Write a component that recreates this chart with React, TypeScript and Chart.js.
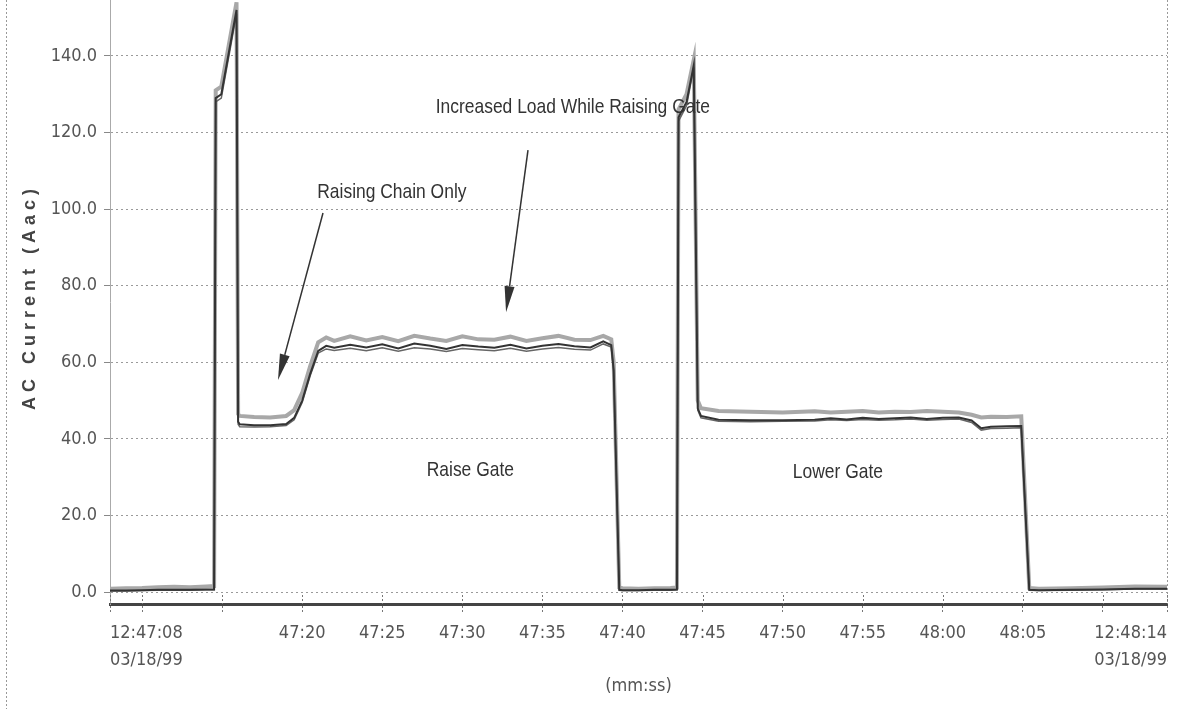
import React, { useEffect, useRef } from "react";
import { Chart, registerables } from "chart.js";

Chart.register(...registerables);

// time in seconds after 12:47:00 (03/18/99)
const times = [
  8, 9, 10, 11, 12, 13, 14, 14.5,
  14.6, 14.95, 15.9, 16.0, 16.1, 17, 18, 19,
  19.5, 20, 20.5, 21, 21.5, 22, 23, 24,
  25, 26, 27, 28, 29, 30, 31, 32,
  33, 34, 35, 36, 37, 38, 38.8, 39.3,
  39.45, 39.8, 40, 41, 42, 43, 43.4, 43.5,
  44.0, 44.45, 44.7, 44.9, 46, 48, 50, 52,
  53, 54, 55, 56, 57, 58, 59, 60,
  61, 61.8, 62.4, 63, 64, 64.9, 65.4, 66,
  68, 70, 72, 74,
];

// AC current (Aac), three traces
const phaseA = [
  0.9, 1.0, 1.1, 1.3, 1.4, 1.3, 1.5, 1.6,
  131, 132, 154, 46.5, 46.0, 45.7, 45.6, 46.0,
  47.5, 52, 59, 65.2, 66.5, 65.6, 66.8, 65.7,
  66.6, 65.5, 66.9, 66.2, 65.6, 66.8, 66.0, 65.9,
  66.7, 65.6, 66.3, 66.9, 65.9, 65.8, 66.9, 66.0,
  60.0, 1.2, 1.0, 0.9, 1.0, 1.1, 1.2, 126,
  130, 139, 50, 48.0, 47.3, 47.1, 46.9, 47.2,
  46.9, 47.1, 47.3, 46.9, 47.1, 47.0, 47.3, 47.1,
  46.9, 46.3, 45.6, 45.8, 45.7, 45.9, 1.1, 0.9,
  1.0, 1.2, 1.5, 1.4,
];

const phaseB = [
  0.4, 0.4, 0.5, 0.6, 0.6, 0.6, 0.7, 0.7,
  129, 130, 152, 44.5, 43.8, 43.6, 43.6, 43.9,
  45.5, 50, 57, 63.0, 64.3, 63.8, 64.6, 63.9,
  64.7, 63.6, 64.9, 64.3, 63.5, 64.5, 64.1, 63.8,
  64.6, 63.6, 64.3, 64.8, 64.2, 63.9, 65.5, 64.5,
  58.0, 0.6, 0.5, 0.5, 0.6, 0.6, 0.7, 124,
  128, 137.5, 48, 46.0, 45.0, 44.9, 44.9, 45.0,
  45.4, 45.1, 45.5, 45.2, 45.4, 45.6, 45.2, 45.5,
  45.6, 44.8, 42.8, 43.2, 43.3, 43.4, 0.6, 0.5,
  0.6, 0.7, 0.9, 0.9,
];

const phaseC = [
  0.3, 0.3, 0.4, 0.5, 0.5, 0.5, 0.6, 0.6,
  128, 129, 151, 43.8, 43.2, 43.1, 43.2, 43.5,
  45.0, 49.5, 56.5, 62.4, 63.5, 63.1, 63.7, 63.0,
  63.8, 62.9, 63.8, 63.5, 62.8, 63.6, 63.3, 63.0,
  63.7, 62.9, 63.5, 63.9, 63.4, 63.2, 64.8, 64.0,
  57.5, 0.5, 0.4, 0.4, 0.5, 0.5, 0.6, 123,
  127, 137, 47.5, 45.5, 44.6, 44.5, 44.6, 44.7,
  45.0, 44.8, 45.1, 44.9, 45.0, 45.2, 44.9, 45.1,
  45.2, 44.3, 42.3, 42.7, 42.8, 42.9, 0.5, 0.4,
  0.5, 0.6, 0.8, 0.8,
];

const xTickValues = [8, 10, 15, 20, 25, 30, 35, 40, 45, 50, 55, 60, 65, 70, 74];
const xTickLabels: (string | string[])[] = [
  ["12:47:08", "03/18/99"], "", "", "47:20", "47:25", "47:30", "47:35",
  "47:40", "47:45", "47:50", "47:55", "48:00", "48:05", "", ["12:48:14", "03/18/99"],
];
const yTickValues = [0, 20, 40, 60, 80, 100, 120, 140];

const yTitle = "AC Current (Aac)";
const xTitle = "(mm:ss)";

const noteTexts = [
  { text: "Increased Load While Raising Gate", x: 36.9, y: 125.1 },
  { text: "Raising Chain Only", x: 25.6, y: 102.9 },
  { text: "Raise Gate", x: 30.5, y: 30.3 },
  { text: "Lower Gate", x: 53.45, y: 29.8 },
];
const noteArrows = [
  { x1: 21.3, y1: 99.0, x2: 18.49, y2: 55.4 },
  { x1: 34.1, y1: 115.4, x2: 32.73, y2: 73.1 },
];

const COND = "'DejaVu Sans Condensed', 'Liberation Sans', sans-serif";
const ARIAL = "'Liberation Sans', Arial, sans-serif";

export default function App() {
  const ref = useRef<HTMLCanvasElement>(null);

  useEffect(() => {
    if (!ref.current) return;
    const pts = (ys: number[]) => times.map((x, i) => ({ x, y: ys[i] }));

    const decor = {
      id: "decor",
      afterDatasetsDraw(chart: any) {
        const ctx = chart.ctx;
        const xs = chart.scales.x;
        const ys = chart.scales.y;
        ctx.save();
        // annotations (narrow lettering)
        ctx.fillStyle = "#333";
        ctx.font = `21px ${ARIAL}`;
        ctx.textAlign = "center";
        ctx.textBaseline = "alphabetic";
        noteTexts.forEach((n) => {
          ctx.save();
          ctx.translate(xs.getPixelForValue(n.x), ys.getPixelForValue(n.y));
          ctx.scale(0.83, 1);
          ctx.fillText(n.text, 0, 0);
          ctx.restore();
        });
        ctx.strokeStyle = "#333";
        ctx.lineWidth = 1.5;
        noteArrows.forEach((a) => {
          const px1 = xs.getPixelForValue(a.x1);
          const py1 = ys.getPixelForValue(a.y1);
          const px2 = xs.getPixelForValue(a.x2);
          const py2 = ys.getPixelForValue(a.y2);
          const ang = Math.atan2(py2 - py1, px2 - px1);
          const len = 26;
          const hw = 5;
          const bx = px2 - len * Math.cos(ang);
          const by = py2 - len * Math.sin(ang);
          ctx.beginPath();
          ctx.moveTo(px1, py1);
          ctx.lineTo(bx, by);
          ctx.stroke();
          ctx.beginPath();
          ctx.moveTo(px2, py2);
          ctx.lineTo(bx + hw * Math.sin(ang), by - hw * Math.cos(ang));
          ctx.lineTo(bx - hw * Math.sin(ang), by + hw * Math.cos(ang));
          ctx.closePath();
          ctx.fill();
        });
        ctx.restore();
      },
      afterDraw(chart: any) {
        const ctx = chart.ctx;
        const area = chart.chartArea;
        const xs = chart.scales.x;
        ctx.save();
        ctx.strokeStyle = "#999";
        ctx.lineWidth = 1;
        ctx.setLineDash([2, 2]);
        // right edge of plot
        ctx.beginPath();
        ctx.moveTo(area.right + 0.5, area.top);
        ctx.lineTo(area.right + 0.5, area.bottom);
        ctx.stroke();
        // page frame line on the left
        ctx.beginPath();
        ctx.moveTo(6.5, 0);
        ctx.lineTo(6.5, chart.height);
        ctx.stroke();
        // tick marks above the axis
        ctx.strokeStyle = "#777";
        xTickValues.forEach((v) => {
          const px = Math.round(xs.getPixelForValue(v)) + 0.5;
          ctx.beginPath();
          ctx.moveTo(px, area.bottom - 9);
          ctx.lineTo(px, area.bottom);
          ctx.stroke();
        });
        ctx.setLineDash([]);
        // y axis title, letter-spaced
        ctx.translate(30, 297);
        ctx.rotate(-Math.PI / 2);
        ctx.fillStyle = "#444";
        ctx.font = `bold 18px ${ARIAL}`;
        (ctx as any).letterSpacing = "5px";
        ctx.textAlign = "center";
        ctx.textBaseline = "middle";
        ctx.fillText(yTitle, 0, 0);
        ctx.restore();
      },
    };

    const chart = new Chart(ref.current, {
      type: "line",
      data: {
        datasets: [
          {
            label: "Phase B",
            data: pts(phaseB),
            borderColor: "#333",
            borderWidth: 2,
            pointRadius: 0,
            tension: 0,
          },
          {
            label: "Phase C",
            data: pts(phaseC),
            borderColor: "#666",
            borderWidth: 1.5,
            pointRadius: 0,
            tension: 0,
          },
          {
            label: "Phase A",
            data: pts(phaseA),
            borderColor: "#a8a8a8",
            borderWidth: 4,
            pointRadius: 0,
            tension: 0,
          },
        ],
      },
      options: {
        animation: false,
        responsive: false,
        layout: { padding: { left: 0, right: 11, top: 0, bottom: 0 } },
        plugins: { legend: { display: false }, tooltip: { enabled: false } },
        scales: {
          x: {
            type: "linear",
            min: 8,
            max: 74,
            afterFit: (s: any) => {
              s.height = 105;
              s.paddingLeft = 0;
              s.paddingRight = 0;
            },
            afterBuildTicks: (s: any) => {
              s.ticks = xTickValues.map((v) => ({ value: v }));
            },
            ticks: {
              autoSkip: false,
              maxRotation: 0,
              minRotation: 0,
              align: "inner",
              color: "#555",
              padding: 8,
              font: { family: COND, size: 18, lineHeight: 1.5 },
              callback: (_v: any, i: number) => xTickLabels[i],
            },
            grid: {
              drawOnChartArea: false,
              drawTicks: true,
              tickLength: 8,
              color: "#777",
              tickBorderDash: [2, 2],
            },
            border: { display: true, color: "#444", width: 3 },
            title: {
              display: true,
              text: xTitle,
              color: "#555",
              font: { family: COND, size: 18 },
              padding: { top: 0, bottom: 12 },
            },
          },
          y: {
            min: -3.1,
            max: 154.6,
            afterFit: (s: any) => {
              s.width = 110;
              s.paddingTop = 0;
              s.paddingBottom = 0;
            },
            afterBuildTicks: (s: any) => {
              s.ticks = yTickValues.map((v) => ({ value: v }));
            },
            ticks: {
              color: "#555",
              padding: 7,
              font: { family: COND, size: 18 },
              callback: (v: any) => Number(v).toFixed(1),
            },
            grid: {
              color: "#9a9a9a",
              lineWidth: 1,
              tickLength: 6,
              tickColor: "#888",
            },
            border: { display: true, color: "#aaa", width: 1, dash: [2, 3] },
          },
        },
      },
      plugins: [decor],
    } as any);

    return () => chart.destroy();
  }, []);

  return (
    <div
      style={{
        position: "fixed",
        left: 0,
        top: 0,
        width: 1178,
        height: 709,
        background: "#fff",
      }}
    >
      <canvas ref={ref} width={1178} height={709} />
    </div>
  );
}
